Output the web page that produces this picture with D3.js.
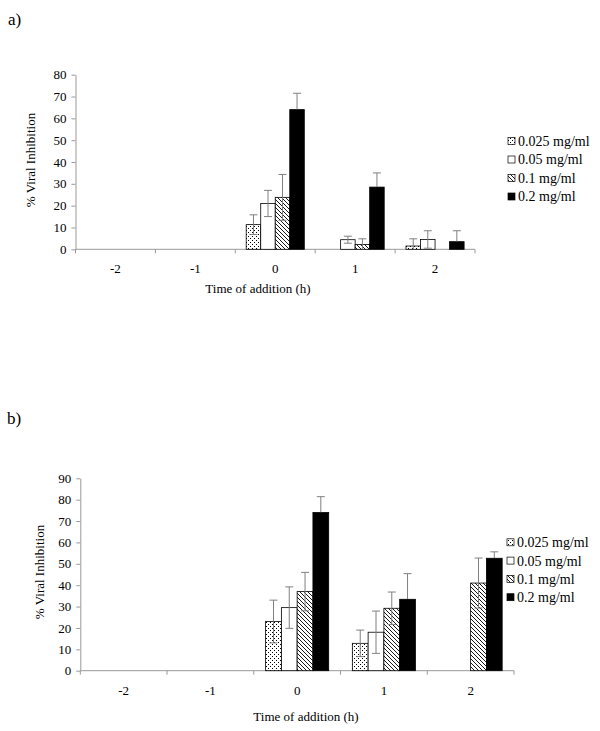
<!DOCTYPE html>
<html><head><meta charset="utf-8">
<script src="https://cdn.jsdelivr.net/npm/d3@7"></script>
<style>
html,body{margin:0;padding:0;background:#fff;}
text{font-family:"Liberation Serif","Times New Roman","DejaVu Serif",serif;fill:#000;}
</style></head>
<body>
<svg id="c" width="600" height="731"></svg>
<script>
// ---------- data ----------
const categories = ["-2", "-1", "0", "1", "2"];
const seriesNames = ["0.025 mg/ml", "0.05 mg/ml", "0.1 mg/ml", "0.2 mg/ml"];

// Panel a
const aTicks = [0, 10, 20, 30, 40, 50, 60, 70, 80];
const a025 = [null, null, 11.3, null, 1.5];
const a05  = [null, null, 21.0, 4.4, 4.5];
const a01  = [null, null, 23.8, 2.2, null];
const a02  = [null, null, 64.0, 28.5, 3.5];
const a025Err = [null, null, 4.5, null, 3.3];
const a05Err  = [null, null, 6.0, 1.6, 4.0];
const a01Err  = [null, null, 10.5, 2.6, null];
const a02Err  = [null, null, 7.5, 6.5, 5.0];

// Panel b
const bTicks = [0, 10, 20, 30, 40, 50, 60, 70, 80, 90];
const b025 = [null, null, 23.0, 12.8, null];
const b05  = [null, null, 29.5, 18.0, null];
const b01  = [null, null, 37.0, 29.2, 41.0];
const b02  = [null, null, 74.0, 33.4, 52.6];
const b025Err = [null, null, 10.0, 6.2, null];
const b05Err  = [null, null, 9.7, 9.9, null];
const b01Err  = [null, null, 9.0, 7.6, 11.7];
const b02Err  = [null, null, 7.4, 12.0, 3.0];

const yTitle = "% Viral Inhibition";
const xTitle = "Time of addition (h)";

// ---------- drawing ----------
const svg = d3.select("#c");
const defs = svg.append("defs");
// dotted pattern
const pd = defs.append("pattern").attr("id","dots").attr("patternUnits","userSpaceOnUse")
  .attr("width",4).attr("height",4);
pd.append("rect").attr("width",4).attr("height",4).attr("fill","#fff");
pd.append("rect").attr("x",0).attr("y",0).attr("width",1).attr("height",1).attr("fill","#000");
pd.append("rect").attr("x",2).attr("y",2).attr("width",1).attr("height",1).attr("fill","#000");
// diagonal hatch
const ph = defs.append("pattern").attr("id","hatch").attr("patternUnits","userSpaceOnUse")
  .attr("width",4).attr("height",4);
ph.append("rect").attr("width",4).attr("height",4).attr("fill","#fff");
ph.append("path").attr("d","M0,0L4,4M-1,3L1,5M3,-1L5,1").attr("stroke","#000").attr("stroke-width",0.9);

const fills = ["url(#dots)", "#fff", "url(#hatch)", "#000"];
const errDownColor = ["#808080", "#808080", "#808080", "#000"];

function drawChart(opt) {
  const g = svg.append("g");
  const x = d3.scaleBand().domain(categories).range([opt.x0, opt.x1]).paddingInner(0).paddingOuter(0);
  const xs = d3.scaleBand().domain(d3.range(seriesNames.length)).range([0, x.bandwidth()])
    .paddingInner(0).paddingOuter(0.75);
  const y = d3.scaleLinear().domain([0, d3.max(opt.ticks)]).range([opt.y0, opt.yTop]);

  // y axis
  const ya = g.append("g").attr("transform", `translate(${opt.x0},0)`)
    .call(d3.axisLeft(y).tickValues(opt.ticks).tickSizeInner(4).tickSizeOuter(0).tickPadding(5));
  ya.attr("font-family", null);
  ya.select(".domain").attr("stroke","#999");
  ya.selectAll(".tick line").attr("stroke","#999");
  ya.selectAll(".tick text").attr("font-size",13);

  // x axis line and boundary ticks
  g.append("line").attr("x1",opt.x0).attr("x2",opt.x1).attr("y1",y(0)).attr("y2",y(0)).attr("stroke","#999");
  const bounds = categories.map(c => x(c)).concat([x(categories[categories.length-1]) + x.bandwidth()]);
  g.selectAll(".xt").data(bounds).join("line").attr("x1",d=>d).attr("x2",d=>d)
    .attr("y1",y(0)).attr("y2",y(0)+4).attr("stroke","#999");
  g.selectAll(".xl").data(categories).join("text")
    .attr("x", d => x(d) + x.bandwidth()/2).attr("y", y(0) + 24)
    .attr("text-anchor","middle").attr("font-size",13).text(d => d);

  // bars
  opt.series.forEach((vals, si) => {
    g.selectAll(null).data(categories.map((c,i)=>({c, v: vals[i]})).filter(d=>d.v!=null)).join("rect")
      .attr("x", d => x(d.c) + xs(si)).attr("width", xs.bandwidth())
      .attr("y", d => y(d.v)).attr("height", d => y(0) - y(d.v))
      .attr("fill", fills[si]).attr("stroke","#000").attr("stroke-width",0.8);
  });
  // error bars
  opt.series.forEach((vals, si) => {
    const errs = opt.errs[si];
    const data = categories.map((c,i)=>({c, v: vals[i], e: errs[i]})).filter(d=>d.v!=null && d.e!=null);
    const cx = d => x(d.c) + xs(si) + xs.bandwidth()/2;
    const eg = g.selectAll(null).data(data).join("g");
    eg.append("line").attr("x1",cx).attr("x2",cx).attr("y1",d=>y(d.v)).attr("y2",d=>y(d.v+d.e))
      .attr("stroke","#808080").attr("stroke-width",1);
    eg.append("line").attr("x1",cx).attr("x2",cx).attr("y1",d=>y(d.v)).attr("y2",d=>y(Math.max(0,d.v-d.e)))
      .attr("stroke",errDownColor[si]).attr("stroke-width",1);
    eg.append("line").attr("x1",d=>cx(d)-4).attr("x2",d=>cx(d)+4).attr("y1",d=>y(d.v+d.e)).attr("y2",d=>y(d.v+d.e))
      .attr("stroke","#808080").attr("stroke-width",1);
    eg.filter(d=>d.v-d.e>0 && si<3).append("line").attr("x1",d=>cx(d)-4).attr("x2",d=>cx(d)+4)
      .attr("y1",d=>y(d.v-d.e)).attr("y2",d=>y(d.v-d.e)).attr("stroke","#808080").attr("stroke-width",1);
  });

  // titles
  g.append("text").attr("transform", `translate(${opt.yTitleX},${opt.yTitleY}) rotate(-90)`)
    .attr("text-anchor","middle").attr("font-size",13).text(yTitle);
  g.append("text").attr("x",opt.xTitleX).attr("y",opt.xTitleY).attr("text-anchor","middle")
    .attr("font-size",13).text(xTitle);
  g.append("text").attr("x",opt.labX).attr("y",opt.labY).attr("font-size",17).text(opt.label);

  // legend
  const lg = g.append("g");
  seriesNames.forEach((n, i) => {
    const cy = opt.legY + i*opt.legStep;
    lg.append("rect").attr("x",opt.legX).attr("y",cy-3.5).attr("width",7).attr("height",7)
      .attr("fill",fills[i]).attr("stroke","#000").attr("stroke-width",0.7);
    lg.append("text").attr("x",opt.legX+10).attr("y",cy).attr("dy","0.35em").attr("font-size",14).text(n);
  });
}

drawChart({
  x0: 75.5, x1: 475, y0: 249.3, yTop: 74.7, ticks: aTicks,
  series: [a025, a05, a01, a02], errs: [a025Err, a05Err, a01Err, a02Err],
  yTitleX: 35, yTitleY: 160, xTitleX: 258, xTitleY: 293,
  label: "a)", labX: 8, labY: 25,
  legX: 508, legY: 141, legStep: 18.5
});
drawChart({
  x0: 80.3, x1: 514, y0: 670.7, yTop: 478.3, ticks: bTicks,
  series: [b025, b05, b01, b02], errs: [b025Err, b05Err, b01Err, b02Err],
  yTitleX: 44, yTitleY: 572, xTitleX: 306, xTitleY: 721,
  label: "b)", labX: 7, labY: 424,
  legX: 507, legY: 542.3, legStep: 18.3
});
</script>
</body></html>
